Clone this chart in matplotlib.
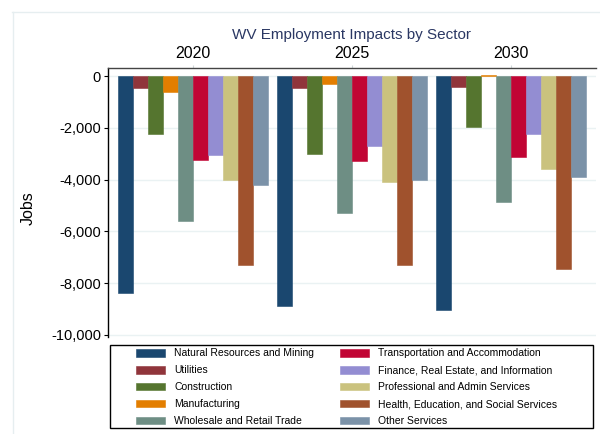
import matplotlib
matplotlib.use('Agg')
import matplotlib.pyplot as plt
from matplotlib.patches import Rectangle
from matplotlib.lines import Line2D
from matplotlib.ticker import FuncFormatter
import numpy as np

# --- data ---
years = ['2020', '2025', '2030']
sectors = ['Natural Resources and Mining', 'Utilities', 'Construction', 'Manufacturing',
           'Wholesale and Retail Trade', 'Transportation and Accommodation',
           'Finance, Real Estate, and Information', 'Professional and Admin Services',
           'Health, Education, and Social Services', 'Other Services']
natural = [-8370, -8880, -9020]
utilities = [-470, -480, -440]
construction = [-2250, -3010, -1960]
manufacturing = [-600, -320, 40]
wholesale = [-5590, -5290, -4880]
transport = [-3260, -3270, -3130]
finance = [-3060, -2690, -2240]
professional = [-4030, -4080, -3590]
health = [-7310, -7310, -7440]
other = [-4220, -4030, -3890]
series = [natural, utilities, construction, manufacturing, wholesale,
          transport, finance, professional, health, other]
colors = ['#1a476f', '#90353b', '#55752f', '#e37e00', '#6e8e84',
          '#c10534', '#938dd2', '#cac27e', '#a0522d', '#7b92a8']

plt.rcParams['font.family'] = ['Liberation Sans', 'DejaVu Sans']

W, H = 600, 434
fig = plt.figure(figsize=(6, 4.34), dpi=100)
ax = fig.add_axes([108 / W, 1 - 337 / H, 488 / W, (337 - 67.5) / H])

x = np.arange(len(years))
w = 15 / 159
for i, (vals, c) in enumerate(zip(series, colors)):
    ax.bar(x + (i - 4.5) * w, vals, width=w, color=c, edgecolor=c,
           linewidth=0.4, label=sectors[i], zorder=3)

ax.set_xlim(-0.535, 2.535)
ax.set_ylim(-10080, 330)
ax.set_yticks(np.arange(-10000, 1, 2000))
ax.yaxis.set_major_formatter(FuncFormatter(lambda v, p: f'{int(v):,}'))
ax.grid(axis='y', color='#eaf2f3', linewidth=1, zorder=0)
ax.tick_params(axis='y', labelsize=10.5, length=3, width=0.8, color='black', pad=2)

ax.xaxis.tick_top()
ax.set_xticks(x)
ax.set_xticklabels(years)
ax.tick_params(axis='x', labelsize=11.5, length=2.5, width=0.8, color='#d0d8da', pad=2)

for s in ['right', 'bottom']:
    ax.spines[s].set_visible(False)
ax.spines['left'].set_color('black')
ax.spines['left'].set_linewidth(1)
ax.spines['top'].set_color('#444444')
ax.spines['top'].set_linewidth(1)

ax.set_ylabel('Jobs', fontsize=11.5)
ax.yaxis.set_label_coords((36 - 108) / 488, 0.48)

fig.text(352 / W, 1 - 35 / H, 'WV Employment Impacts by Sector', ha='center', va='center',
         fontsize=11, color='#2a3763')

# legend
handles, labels = ax.get_legend_handles_labels()
fig.legend(handles, labels, ncol=2, loc='upper left', frameon=False,
           bbox_to_anchor=(136 / W, 1 - 348.5 / H), borderpad=0, borderaxespad=0,
           fontsize=7.5, handlelength=2.8, handleheight=0.75, handletextpad=0.85,
           labelspacing=0.66, columnspacing=2.5)
fig.add_artist(Rectangle((110 / W, 1 - 428 / H), 483 / W, 83 / H, transform=fig.transFigure,
                         fill=False, edgecolor='black', linewidth=1))

# faint outer border
fig.add_artist(Line2D([12 / W, 1], [1 - 11.5 / H] * 2, transform=fig.transFigure,
                      color='#e6eef0', linewidth=1))
fig.add_artist(Line2D([12.5 / W] * 2, [0, 1 - 11.5 / H], transform=fig.transFigure,
                      color='#e6eef0', linewidth=1))

fig.savefig('out.png', dpi=100, facecolor='white')
